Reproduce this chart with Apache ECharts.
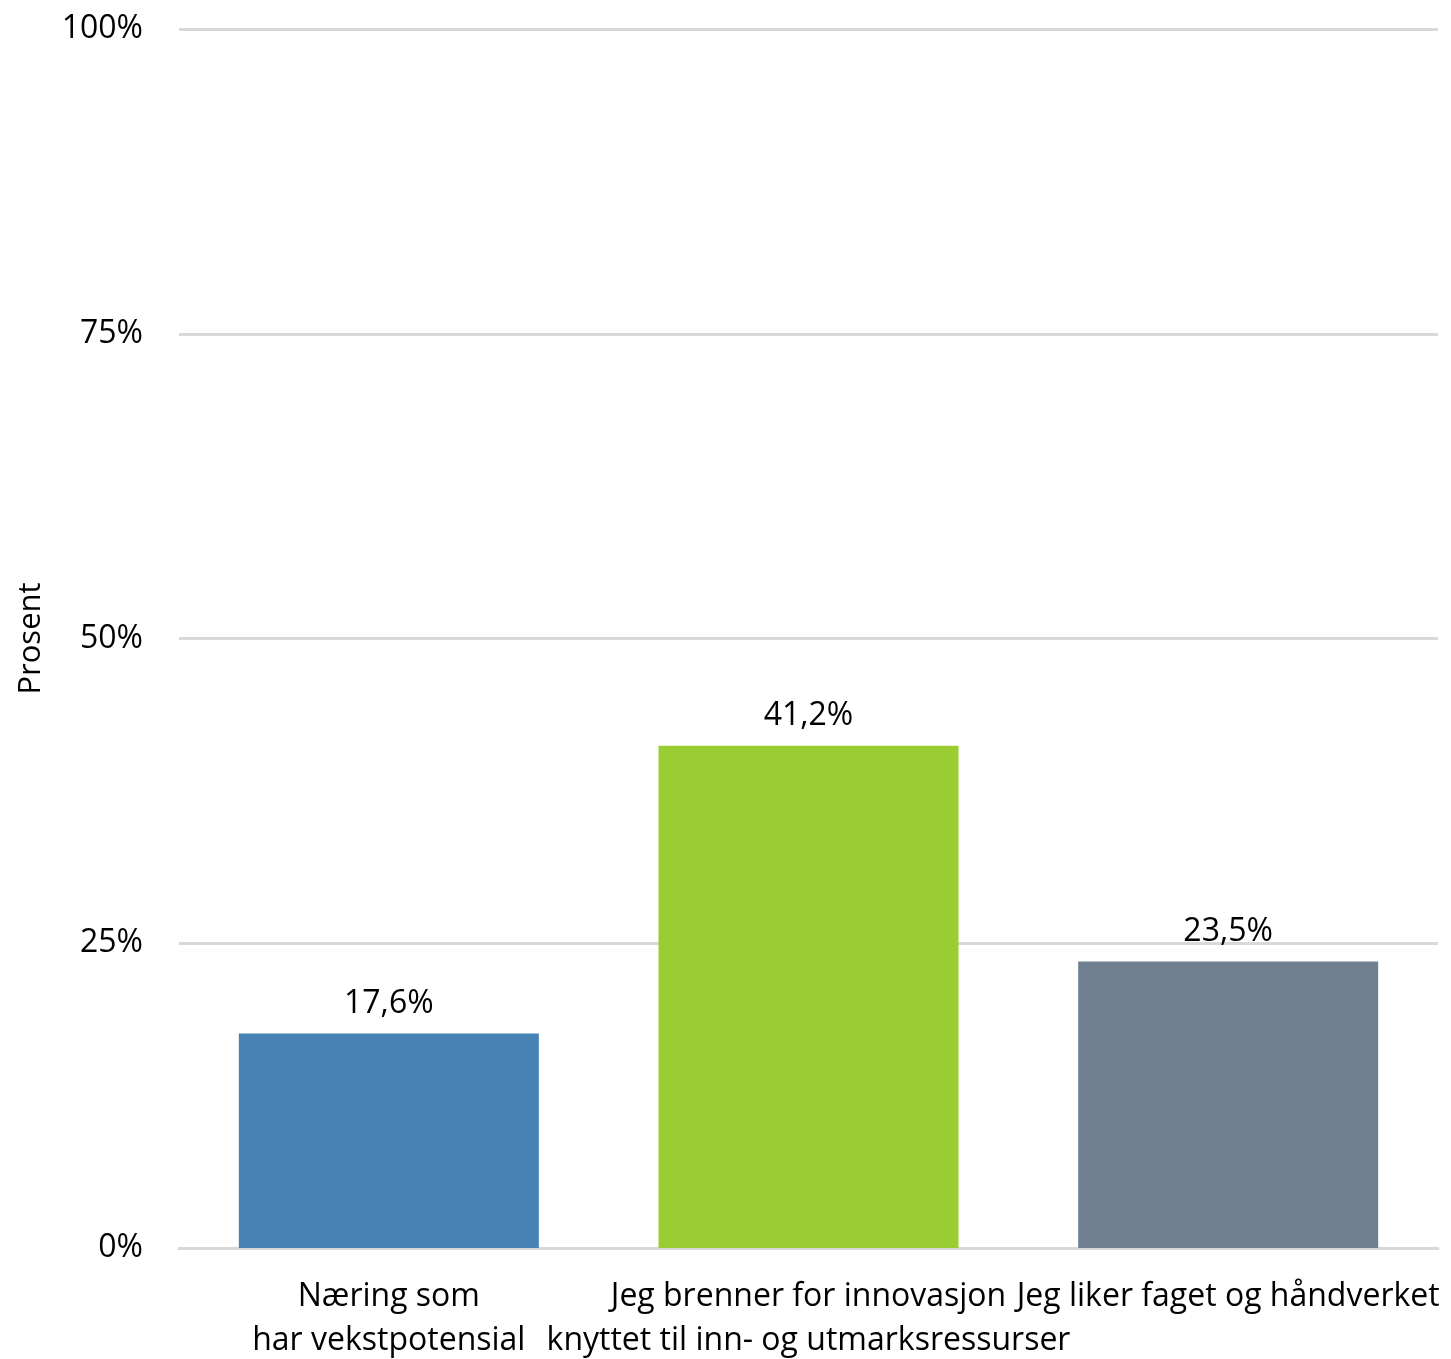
<!DOCTYPE html>
<html>
<head>
<meta charset="utf-8">
<script src="https://cdn.jsdelivr.net/npm/echarts@6/dist/echarts.min.js"></script>
<style>
html,body{margin:0;padding:0;background:#fff;}
#chart{width:1451px;height:1359px;}
</style>
</head>
<body>
<div id="chart"></div>
<script>
const categories = ["Næring som\nhar vekstpotensial", "Jeg brenner for innovasjon\nknyttet til inn- og utmarksressurser", "Jeg liker faget og håndverket"];
const values = [17.6, 41.2, 23.5];
const barColors = ["#4682B4", "#9ACD32", "#708090"];
const yTicks = [0, 25, 50, 75, 100];
const yAxisName = "Prosent";

const FONT = "Open Sans";
const chart = echarts.init(document.getElementById('chart'));
chart.setOption({
  animation: false,
  textStyle: {fontFamily: FONT},
  grid: {left: 179, right: 13, top: 29, bottom: 111, containLabel: false, outerBoundsMode: 'none'},
  xAxis: {
    type: 'category',
    data: categories,
    axisLine: {show: true, lineStyle: {color: '#d9d9d9', width: 3}},
    axisTick: {show: false},
    axisLabel: {interval: 0, color: '#000', fontSize: 32, fontFamily: FONT, lineHeight: 44, margin: 27}
  },
  yAxis: {
    type: 'value',
    min: yTicks[0], max: yTicks[yTicks.length - 1], interval: 25,
    name: yAxisName,
    nameLocation: 'middle',
    nameRotate: 90,
    nameGap: 132,
    nameTextStyle: {color: '#000', fontSize: 31, fontFamily: FONT},
    axisLine: {show: false},
    axisTick: {show: false},
    splitLine: {lineStyle: {color: '#d9d9d9', width: 3}},
    axisLabel: {color: '#000', fontSize: 32, fontFamily: FONT, margin: 36, formatter: v => v + '%'}
  },
  series: [{
    type: 'bar',
    barWidth: 300,
    data: values.map((v, i) => ({value: v, itemStyle: {color: barColors[i]}})),
    label: {
      show: true, position: 'top', distance: 14, color: '#000', fontSize: 32, fontFamily: FONT,
      formatter: p => p.value.toFixed(1).replace('.', ',') + '%'
    }
  }]
});
</script>
</body>
</html>
